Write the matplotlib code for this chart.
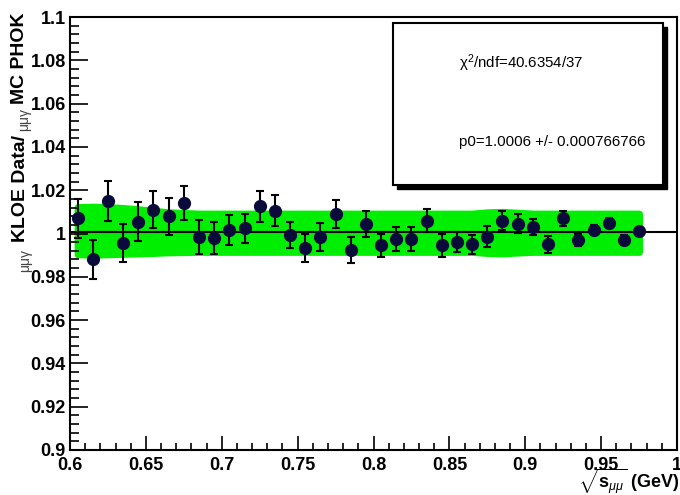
import matplotlib.pyplot as plt
import numpy as np
from matplotlib.patches import Rectangle
from matplotlib.ticker import MultipleLocator

plt.rcParams['font.family'] = ['Liberation Sans', 'DejaVu Sans']
plt.rcParams['mathtext.fontset'] = 'custom'
plt.rcParams['mathtext.rm'] = 'Liberation Sans'
plt.rcParams['mathtext.it'] = 'Liberation Sans:italic'
plt.rcParams['mathtext.bf'] = 'Liberation Sans:bold'

# bin centres of sqrt(s_mumu) in GeV
mass = [0.605, 0.615, 0.625, 0.635, 0.645, 0.655, 0.665, 0.675, 0.685, 0.695,
        0.705, 0.715, 0.725, 0.735, 0.745, 0.755, 0.765, 0.775, 0.785, 0.795,
        0.805, 0.815, 0.825, 0.835, 0.845, 0.855, 0.865, 0.875, 0.885, 0.895,
        0.905, 0.915, 0.925, 0.935, 0.945, 0.955, 0.965, 0.975]
# data / MC ratio and statistical errors
ratio = [1.007, 0.988, 1.015, 0.9955, 1.0055, 1.011, 1.008, 1.014, 0.9985, 0.998,
         1.0015, 1.0025, 1.0125, 1.0105, 0.9995, 0.9935, 0.9985, 1.009, 0.9925, 1.0045,
         0.9945, 0.9975, 0.9975, 1.006, 0.9945, 0.996, 0.995, 0.9985, 1.006, 1.0045,
         1.003, 0.995, 1.007, 0.997, 1.0015, 1.005, 0.997, 1.001]
err = [0.009, 0.0088, 0.0092, 0.0088, 0.009, 0.0085, 0.0085, 0.0079, 0.0079, 0.0074,
       0.0069, 0.0067, 0.0072, 0.0072, 0.006, 0.0065, 0.0065, 0.0065, 0.006, 0.006,
       0.0055, 0.0055, 0.0055, 0.0053, 0.0055, 0.0046, 0.0044, 0.0049, 0.0046, 0.0044,
       0.0039, 0.0039, 0.0035, 0.0028, 0.0023, 0.0023, 0.0021, 0.0014]
# systematic band
band_hi = [1.0122, 1.0124, 1.0122, 1.0118, 1.0112, 1.0105, 1.0098, 1.0095] + [1.0092] * 19 \
    + [1.0098, 1.0100, 1.0096] + [1.0092] * 8
band_lo = [0.9904, 0.9902, 0.9904, 0.9906, 0.9908, 0.9910, 0.9913, 0.9914] + [0.9915] * 19 \
    + [0.9910, 0.9908, 0.9912] + [0.9915] * 8

p0 = 1.0006
p0_err = 0.000766766
chi2 = 40.6354
ndf = 37

fig = plt.figure(figsize=(6.8, 4.95), dpi=100)
ax = fig.add_axes([70 / 680, 1 - 450 / 495, 607 / 680, 433 / 495])

ax.fill_between(mass, band_lo, band_hi, color='#00ee00', edgecolor='#00ee00',
                lw=5, joinstyle='round', zorder=1)
ax.axhline(p0, color='black', lw=1.5, zorder=2)
ax.errorbar(mass, ratio, yerr=err, fmt='o', ms=8.5, mfc='#0b0b3b', mec='#0b0b3b',
            ecolor='black', elinewidth=1.5, capsize=3, capthick=1.5, zorder=3)

ax.set_xlim(0.6, 1.0)
ax.set_ylim(0.9, 1.1)
ax.xaxis.set_major_locator(MultipleLocator(0.05))
ax.xaxis.set_minor_locator(MultipleLocator(0.01))
ax.yaxis.set_major_locator(MultipleLocator(0.02))
ax.yaxis.set_minor_locator(MultipleLocator(0.004))
ax.xaxis.set_major_formatter(plt.FuncFormatter(lambda v, p: ('%g' % round(v, 3))))
ax.yaxis.set_major_formatter(plt.FuncFormatter(lambda v, p: ('%g' % round(v, 3))))
ax.tick_params(axis='y', which='major', direction='in', length=13, width=1.2, pad=3)
ax.tick_params(axis='y', which='minor', direction='in', length=6.5, width=1.2)
ax.tick_params(axis='x', which='major', direction='in', length=10, width=1.2, pad=5)
ax.tick_params(axis='x', which='minor', direction='in', length=5, width=1.2)
for lab in ax.get_xticklabels() + ax.get_yticklabels():
    lab.set_fontweight('bold')
    lab.set_fontsize(13)
for sp in ax.spines.values():
    sp.set_linewidth(1.5)

# y title built from pieces, top to bottom, each hung below the previous one
small = dict(fontsize=10, color='#444444', rotation=90)
big = dict(fontsize=14, fontweight='bold', rotation=90)
t = fig.text(20 / 680, 1 - 12 / 495, 'MC PHOK', ha='center', va='top', **big)
t = fig.add_artist(plt.Annotation('μμγ', xy=(0.75, 0), xycoords=t, ha='center', va='top',
                                  xytext=(0, -3), textcoords='offset points', **small))
t = fig.add_artist(plt.Annotation('KLOE Data/', xy=(0.25, 0), xycoords=t, ha='center', va='top',
                                  xytext=(0, -3), textcoords='offset points', **big))
fig.add_artist(plt.Annotation('μμγ', xy=(0.75, 0), xycoords=t, ha='center', va='top',
                              xytext=(0, -5), textcoords='offset points', **small))

fig.text(679 / 680, 1 - 481 / 495, r'$\sqrt{\mathbf{s}_{\mu\mu}}$ (GeV)', ha='right', va='center',
         fontsize=13, fontweight='bold')

# fit statistics box with drop shadow
x0, y0, w, h = 393 / 680, 1 - 185 / 495, 270 / 680, 162 / 495
fig.patches.append(Rectangle((x0 + 4 / 680, y0 - 4 / 495), w, h, transform=fig.transFigure,
                             facecolor='black', edgecolor='black', zorder=5))
fig.patches.append(Rectangle((x0, y0), w, h, transform=fig.transFigure,
                             facecolor='white', edgecolor='black', lw=1.5, zorder=6))
fig.text(459 / 680, 1 - 63 / 495, r'$\mathregular{\chi^2}$/ndf=%g/%d' % (chi2, ndf),
         ha='left', va='center', fontsize=10.8, zorder=7)
fig.text(459 / 680, 1 - 142 / 495, 'p0=%g +/- %g' % (p0, p0_err), ha='left', va='center',
         fontsize=10.8, zorder=7)

fig.savefig('out.png', dpi=100)
